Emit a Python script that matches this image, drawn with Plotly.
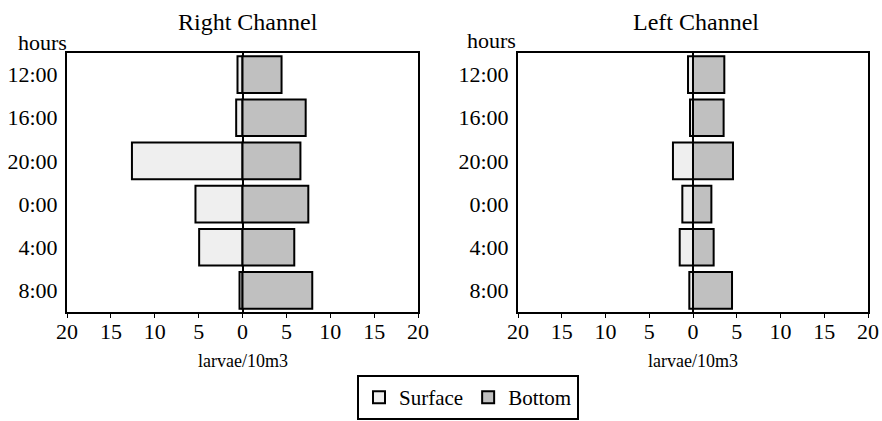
import plotly.graph_objects as go

hours = ["12:00", "16:00", "20:00", "0:00", "4:00", "8:00"]
right_surface = [0.57, 0.72, 12.6, 5.36, 4.94, 0.34]
right_bottom = [4.45, 7.2, 6.6, 7.5, 5.9, 7.95]
left_surface = [0.57, 0.34, 2.29, 1.22, 1.52, 0.42]
left_bottom = [3.58, 3.5, 4.57, 2.1, 2.36, 4.46]
tick_vals = [-20, -15, -10, -5, 0, 5, 10, 15, 20]
tick_text = ["20", "15", "10", "5", "0", "5", "10", "15", "20"]

SURF = "#efefef"
BOT = "#c0c0c0"
FONT = "Liberation Serif"
W, H = 882, 421


def px(x):
    return x / W


def py(y):
    return 1 - y / H


fig = go.Figure()
for i, (surf, bot) in enumerate([(right_surface, right_bottom), (left_surface, left_bottom)]):
    xa = "x" if i == 0 else "x2"
    ya = "y" if i == 0 else "y2"
    fig.add_trace(go.Bar(y=hours, x=[-v for v in surf], orientation="h", name="Surface",
                         marker=dict(color=SURF, line=dict(color="black", width=2)),
                         xaxis=xa, yaxis=ya, showlegend=(i == 0), legendrank=1))
    fig.add_trace(go.Bar(y=hours, x=bot, orientation="h", name="Bottom",
                         marker=dict(color=BOT, line=dict(color="black", width=2)),
                         xaxis=xa, yaxis=ya, showlegend=(i == 0), legendrank=2))

xcommon = dict(range=[-20, 20], tickvals=tick_vals, ticktext=tick_text, ticks="outside",
               ticklen=4, tickcolor="black", tickwidth=1, showgrid=False, zeroline=True,
               zerolinecolor="black", zerolinewidth=2, showline=True, linecolor="black",
               linewidth=2, mirror=True, tickfont=dict(family=FONT, size=22, color="black"),
               fixedrange=True, automargin=False, ticklabelstandoff=-5)
ycommon = dict(categoryorder="array", categoryarray=hours, autorange="reversed",
               showline=True, linecolor="black", linewidth=2, mirror=True, ticks="",
               showgrid=False, tickfont=dict(family=FONT, size=22, color="black"),
               domain=[py(312), py(53)], automargin=False, ticklabelstandoff=3)

fig.update_layout(
    width=W, height=H, margin=dict(l=0, r=0, t=0, b=0, autoexpand=False),
    paper_bgcolor="white", plot_bgcolor="white",
    barmode="relative", bargap=0.15,
    font=dict(family=FONT, color="black"),
    xaxis=dict(domain=[px(67), px(418)], **xcommon),
    xaxis2=dict(domain=[px(518), px(868)], **xcommon),
    yaxis=dict(anchor="x", **ycommon),
    yaxis2=dict(anchor="x2", **ycommon),
    legend=dict(orientation="h", x=px(468), xanchor="center", y=py(420), yanchor="bottom",
                bordercolor="black", borderwidth=2, font=dict(family=FONT, size=21, color="black"),
                itemwidth=30, traceorder="normal", tracegroupgap=0),
)

anns = []
for text, x, y, size in [("Right Channel", 248, 22, 24), ("Left Channel", 696, 22, 24),
                         ("hours", 42, 42, 22), ("hours", 492, 41, 22),
                         ("larvae/10m3", 243, 361, 18), ("larvae/10m3", 693, 361, 18)]:
    anns.append(dict(text=text, x=px(x), y=py(y), xref="paper", yref="paper",
                     showarrow=False, xanchor="center", yanchor="middle",
                     font=dict(family=FONT, size=size, color="black")))
fig.layout.annotations = anns

fig.write_html("out.html", config={"displayModeBar": False},
               post_script="document.body.style.margin='0';document.body.style.overflow='hidden';")
